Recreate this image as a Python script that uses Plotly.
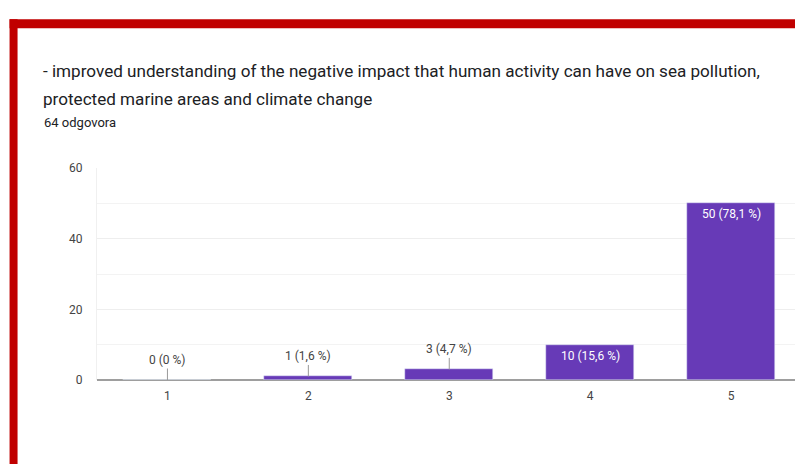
import plotly.graph_objects as go

categories = ["1", "2", "3", "4", "5"]
counts = [0, 1, 3, 10, 50]
total = 64
inside_label = [False, False, False, True, True]
y_ticks = [0, 20, 40, 60]

title_line1 = "- improved understanding of the negative impact that human activity can have on sea pollution,"
title_line2 = "protected marine areas and climate change"
subtitle = "64 odgovora"

OFF = 0  # body margin removed by post_script
W, H = 795, 464
L, R, T = 96.5 - OFF, 0, 167.5 - OFF
B = H - (380.5 - OFF)
PW, PH = W - L - R, H - T - B
CAT_W = 141.0

def px(x):
    # page pixel -> paper coordinate
    return (x - OFF - L) / PW

def py(y):
    return (H - B - (y - OFF)) / PH

def fmt(v):
    pct = v / total * 100
    s = f"{pct:.1f}".rstrip("0").rstrip(".").replace(".", ",")
    return f"{v} ({s} %)"

xs = list(range(1, len(categories) + 1))
fig = go.Figure(go.Bar(
    x=xs, y=counts, marker_color="#673ab7", width=88 / CAT_W,
    hoverinfo="skip",
))

ann = []
for x, v, inside in zip(xs, counts, inside_label):
    if inside:
        ann.append(dict(x=x, y=v, xref="x", yref="y", text=fmt(v), showarrow=False,
                        yanchor="middle", yshift=-11,
                        font=dict(family="Roboto, Arial", size=12, color="#ffffff")))
    else:
        ann.append(dict(x=x, y=v, xref="x", yref="y", text=fmt(v), showarrow=True,
                        ax=0, ay=-20, arrowhead=0, arrowwidth=1, arrowcolor="#999999",
                        standoff=0, startstandoff=0,
                        font=dict(family="Roboto, Arial", size=12, color="#444444")))

ann.append(dict(xref="paper", yref="paper", x=px(40.5), y=py(70), text=title_line1,
                showarrow=False, xanchor="left", yanchor="middle",
                font=dict(family="Roboto", size=17.1, color="#202124")))
ann.append(dict(xref="paper", yref="paper", x=px(40.5), y=py(98), text=title_line2,
                showarrow=False, xanchor="left", yanchor="middle",
                font=dict(family="Roboto", size=17.1, color="#202124")))
ann.append(dict(xref="paper", yref="paper", x=px(41), y=py(122), text=subtitle,
                showarrow=False, xanchor="left", yanchor="middle",
                font=dict(family="Roboto", size=13, color="#202124")))

shapes = [
    dict(type="rect", xref="paper", yref="paper", x0=px(9), x1=px(830), y0=py(27), y1=py(18),
         fillcolor="#c00000", line_width=0, layer="above"),
    dict(type="rect", xref="paper", yref="paper", x0=px(9), x1=px(17), y0=py(480), y1=py(18),
         fillcolor="#c00000", line_width=0, layer="above"),
]

fig.update_layout(
    width=W, height=H,
    margin=dict(l=L, r=R, t=T, b=B, autoexpand=False),
    paper_bgcolor="white", plot_bgcolor="white",
    showlegend=False, hovermode=False,
    annotations=ann, shapes=shapes,
    font=dict(family="Roboto, Arial", color="#444444"),
    xaxis=dict(range=[0.5, 0.5 + PW / CAT_W], tickvals=xs, ticktext=categories,
               showgrid=False, zeroline=False, showline=False, ticks="",
               ticklabelstandoff=7,
               tickfont=dict(size=12, color="#444444")),
    yaxis=dict(range=[0, 60], tickvals=y_ticks, showgrid=True, gridcolor="#eeeeee",
               minor=dict(dtick=10, showgrid=True, gridcolor="#f3f3f3"),
               zeroline=True, zerolinecolor="#9e9e9e", zerolinewidth=2,
               showline=True, linecolor="#f0f0f0", linewidth=1,
               ticks="", ticklabelstandoff=11,
               tickfont=dict(size=12, color="#444444")),
    bargap=0,
)

fig.write_html(
    "out.html",
    config={"displayModeBar": False},
    post_script="document.body.style.margin='0';document.body.style.overflow='hidden';",
)
